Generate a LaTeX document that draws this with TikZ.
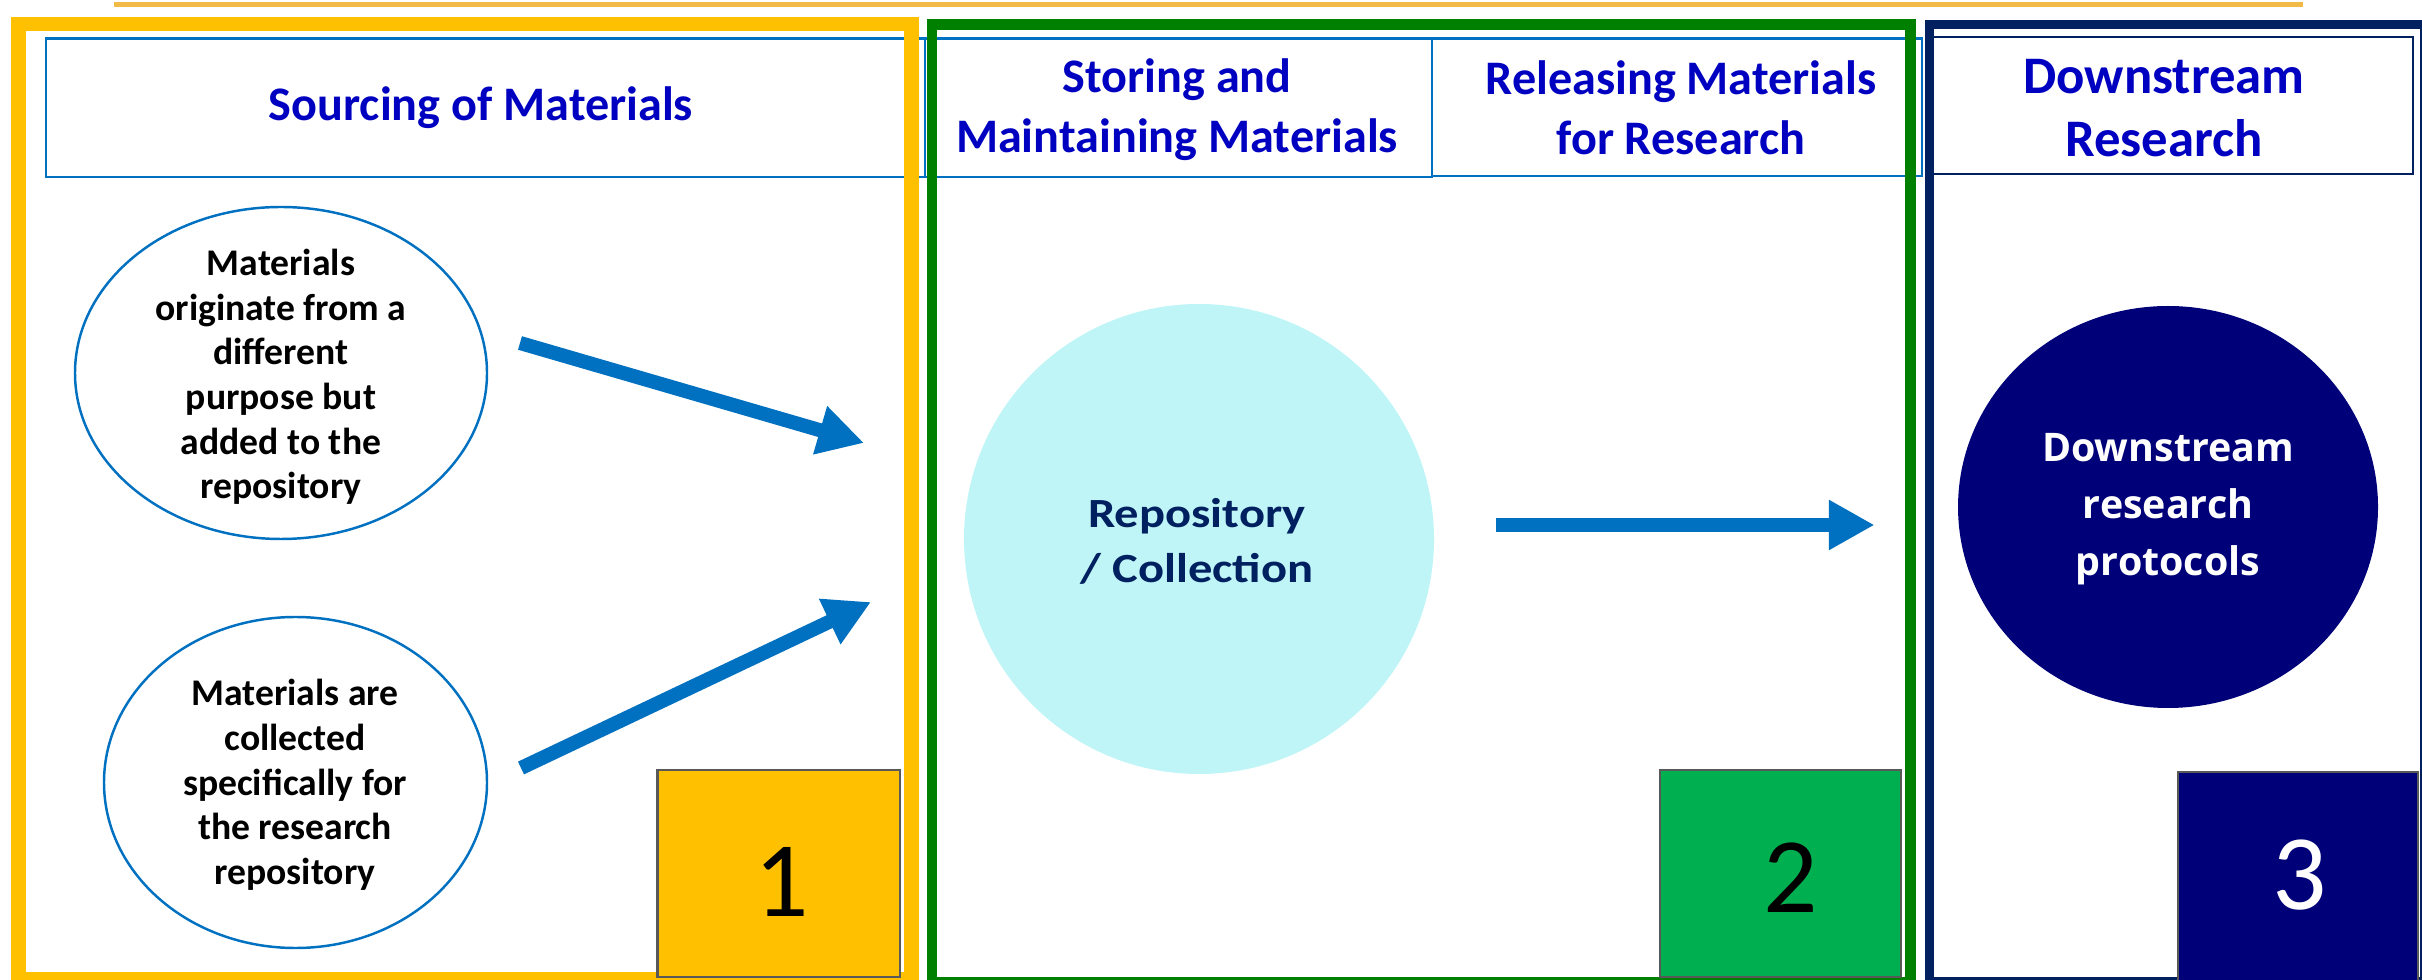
\documentclass[tikz,border=0pt]{standalone}
\usepackage{fontspec}
\setmainfont{Carlito}
\newfontfamily\opensans{Open Sans}
\newfontfamily\midcal{Carlito}[FakeStretch=1.17]
\usetikzlibrary{arrows.meta}

\definecolor{hdrblue}{HTML}{0000C0}
\definecolor{linkblue}{HTML}{0070C0}
\definecolor{goldframe}{HTML}{FFC000}
\definecolor{topline}{HTML}{F2BA46}
\definecolor{greenframe}{HTML}{008000}
\definecolor{navyframe}{HTML}{002060}
\definecolor{boxgreen}{HTML}{00B050}
\definecolor{navyfill}{HTML}{000078}
\definecolor{cyanfill}{HTML}{BFF5F7}
\definecolor{boxedge}{HTML}{595959}

\begin{document}
\begin{tikzpicture}[x=0.01cm,y=-0.01cm,
  hdrbox/.style={draw=linkblue,line width=0.6pt},
  hdrtext/.style={text=hdrblue,align=center,font=\bfseries\fontsize{13.7}{17}\selectfont},
  srcedge/.style={draw=linkblue,line width=0.7pt},
  srctext/.style={align=center,font=\bfseries\fontsize{10.7}{12.7}\selectfont},
  flow/.style={linkblue,line width=4pt,-{Triangle[length=13pt,width=13.4pt]}},
  stagebox/.style={draw=boxedge,line width=0.7pt},
  stagenum/.style={font=\fontsize{30.5}{36}\selectfont}]
  \useasboundingbox (0,0) rectangle (2422,980);
  \clip (0,0) rectangle (2422,980);

  % header cells
  \draw[hdrbox] (46,38.5) rectangle (925,177);
  \draw[hdrbox] (925,38.5) rectangle (1432,177);
  \draw[hdrbox] (1432,38.5) rectangle (1922,176);
  \draw[navyframe,line width=0.6pt] (1927,37) rectangle (2413,174);
  \node[hdrtext] (sourcing) at (481,108) {Sourcing of Materials};
  \node[hdrtext] (storing) at (1177,110) {Storing and\\Maintaining Materials};
  \node[hdrtext] (releasing) at (1681,108) {Releasing Materials\\for Research};
  \node[hdrtext,font=\bfseries\fontsize{15}{18}\selectfont] (downhdr) at (2164,108)
    {Downstream\\Research};

  % stage frames
  \draw[topline,line width=1.3pt] (114,4.5) -- (2303,4.5);
  \draw[goldframe,line width=4.1pt] (18.5,24.3) rectangle (911.5,979);
  \draw[greenframe,line width=3.1pt] (932,24.5) rectangle (1910.5,982);
  \draw[navyframe,line width=2.8pt] (1929.5,24.5) rectangle (2425,982);

  % sources
  \draw[srcedge] (281,373) ellipse [x radius=206, y radius=166];
  \node[srctext] (src1) at (281,377)
    {Materials\\originate from a\\different\\purpose but\\added to the\\repository};
  \draw[srcedge] (295.5,782.5) ellipse [x radius=191.5, y radius=165.5];
  \node[srctext] (src2) at (295,785)
    {Materials are\\collected\\specifically for\\the research\\repository};

  % repository and downstream
  \fill[cyanfill] (1199,539) circle [radius=235];
  \node[text=navyframe,align=center,font=\midcal\bfseries\fontsize{11.8}{15.6}\selectfont]
    (repo) at (1197,541) {Repository\\/ Collection};
  \fill[navyfill] (2168,507) ellipse [x radius=210, y radius=201];
  \node[text=white,align=center,font=\opensans\bfseries\fontsize{11.2}{16.2}\selectfont]
    (protocols) at (2168,509) {Downstream\\research\\protocols};

  % arrows
  \coordinate (a1s) at (520,343);
  \coordinate (a1e) at (864,443);
  \coordinate (a2s) at (521,768);
  \coordinate (a2e) at (871,602);
  \coordinate (a3s) at (1496,525);
  \coordinate (a3e) at (1874.5,525);
  \draw[flow] (a1s) -- (a1e);
  \draw[flow] (a2s) -- (a2e);
  \draw[flow] (a3s) -- (a3e);

  % stage numbers
  \filldraw[stagebox,fill=goldframe] (657.5,770) rectangle (900,977);
  \filldraw[stagebox,fill=boxgreen] (1660,770) rectangle (1901,977);
  \filldraw[stagebox,fill=navyfill] (2178,772) rectangle (2418,985);
  \node[stagenum] (num1) at (782,881.5) {1};
  \node[stagenum] (num2) at (1791,878) {2};
  \node[stagenum,text=white] (num3) at (2300,875) {3};
\end{tikzpicture}
\end{document}
